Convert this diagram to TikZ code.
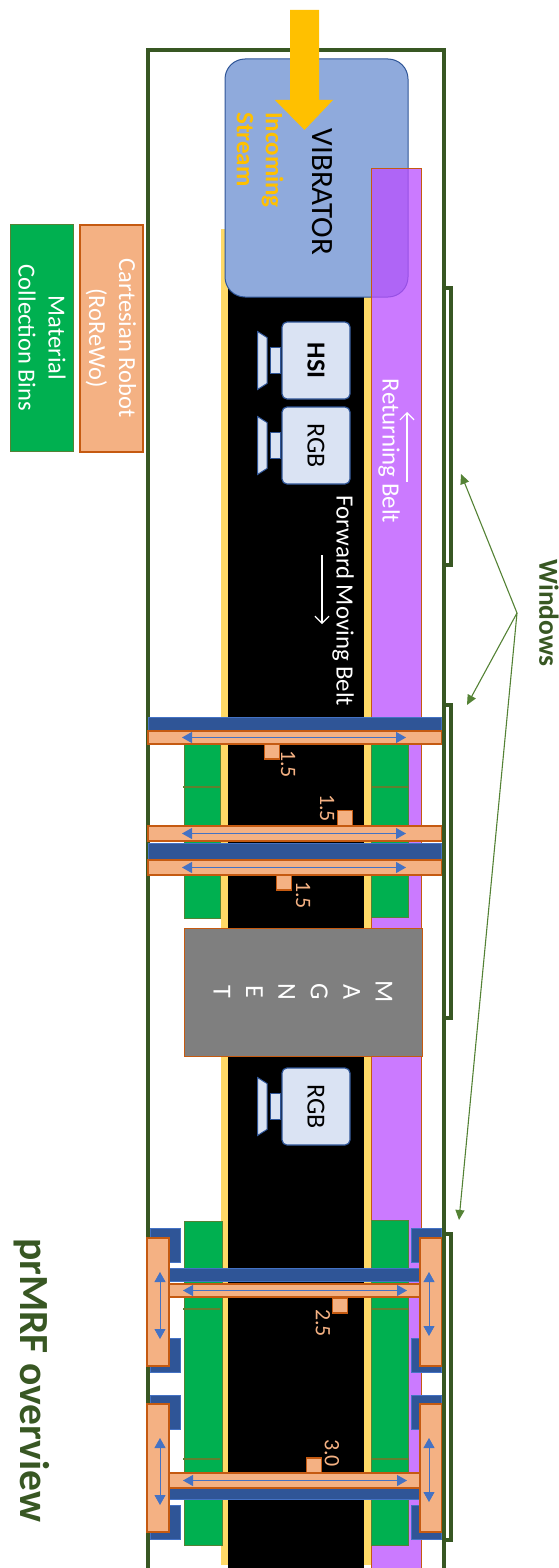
\documentclass[tikz,border=0pt]{standalone}
\usepackage{fontspec}
\setmainfont{Carlito}
\usetikzlibrary{arrows.meta, positioning}
\definecolor{frame-green}{HTML}{385723}
\definecolor{leader-green}{HTML}{548235}
\definecolor{vib-fill}{HTML}{8FAADC}
\definecolor{vib-border}{HTML}{2F5597}
\definecolor{stream}{HTML}{FFC000}
\definecolor{edge-yellow}{HTML}{FFD966}
\definecolor{return-belt}{HTML}{BA4EFF}
\definecolor{rust}{HTML}{C55A11}
\definecolor{robot-fill}{HTML}{F4B183}
\definecolor{bin-fill}{HTML}{00B050}
\definecolor{gantry}{HTML}{2F5597}
\definecolor{slide}{HTML}{4472C4}
\definecolor{magnet-fill}{HTML}{7F7F7F}
\definecolor{cam-fill}{HTML}{DAE3F3}
\definecolor{bin-line}{HTML}{5F8030}
\tikzset{
  vert/.style={rotate=-90, inner sep=0pt},
  robot/.style={draw=rust, fill=robot-fill, line width=1.8pt},
  binbox/.style={draw=leader-green, fill=bin-fill, line width=0.8pt},
  gantrybar/.style={draw=slide, fill=gantry, line width=0.6pt},
  camera/.style={
    vert, draw=vib-border, fill=cam-fill, line width=1.2pt, rounded corners=5pt,
    minimum width=77pt, minimum height=68pt, text=black,
    font=\fontsize{26}{28}\selectfont
  },
  campart/.style={draw=vib-border, fill=cam-fill, line width=1pt},
  slider/.style={draw=slide, line width=0.8pt, {Triangle[length=10pt,width=11pt]}-{Triangle[length=10pt,width=11pt]}},
  divider/.style={draw=bin-line, line width=2pt},
  marker/.style={draw=rust, fill=robot-fill, line width=1.5pt, minimum size=15pt, inner sep=0pt},
  poslbl/.style={vert, text=robot-fill, font=\fontsize{22}{24}\selectfont},
  window/.style={draw=frame-green, line width=4pt},
  leader/.style={draw=leader-green, line width=1.1pt, -{Triangle[length=10pt,width=9pt]}},
  beltlbl/.style={vert, text=white, font=\fontsize{24.8}{27}\selectfont},
  beltarrow/.style={draw=white, line width=1.2pt, -{Straight Barb[length=7pt,width=14pt]}}
}

\begin{document}
\begin{tikzpicture}[x=1pt, y=-1pt]
  \useasboundingbox (0,0) rectangle (559,1568);

  % ---- Outer frame and window brackets -------------------------------------
  \draw[frame-green, line width=4pt] (148,1568) -- (148,50.5) -- (444,50.5) -- (444,1568);
  \foreach \a/\b in {288/565, 705/1018, 1234/1540} {
    \draw[window] (444,\a) -- (451,\a) -- (451,\b) -- (444,\b);
  }

  % ---- Forward belt --------------------------------------------------------
  \fill[edge-yellow] (220.5,229) rectangle (228,1565);
  \fill[edge-yellow] (364,229) rectangle (371,1565);
  \fill[black] (228,280) rectangle (364,1568);

  % ---- Vibrator and returning belt -----------------------------------------
  \node[vert, draw=vib-border, fill=vib-fill, line width=1pt, rounded corners=20pt,
        minimum width=238pt, minimum height=183pt] (vibrator) at (316.5,178) {};
  \node[vert, text=black, font=\fontsize{31}{33}\selectfont] (vib-text) at (322,192) {VIBRATOR};
  \draw[rust, fill=return-belt, fill opacity=0.75, line width=0.8pt] (371,168.5) rectangle (421.5,1570);

  % ---- Incoming stream -----------------------------------------------------
  \fill[stream] (290,10) -- (319,10) -- (319,100) -- (333,100) -- (304.5,130)
    -- (275,100) -- (290,100) -- cycle;
  \node[vert, align=left, text=stream, font=\bfseries\fontsize{25}{29}\selectfont] (stream-text)
    at (260,160) {Incoming\\Stream};

  % ---- Cameras -------------------------------------------------------------
  \foreach \n/\y/\t in {hsi/360.5/\textbf{HSI}, rgba/445.5/RGB, rgbb/1106.5/RGB} {
    \node[camera] (\n) at (316,\y) {\t};
    \draw[campart] (270,\y-13) rectangle (280.5,\y+13);
    \draw[campart] (257.5,\y-29) -- (267,\y-23) -- (267,\y+23) -- (257.5,\y+29) -- cycle;
  }

  % ---- Belt labels ---------------------------------------------------------
  \node[beltlbl] (forward) at (343,601) {Forward Moving Belt};
  \node[beltlbl] (returning) at (389,451) {Returning Belt};
  \coordinate (fw-a) at (322,555);
  \coordinate (fw-b) at (322,624);
  \coordinate (rt-a) at (407,482);
  \coordinate (rt-b) at (407,412);
  \draw[beltarrow] (fw-a) -- (fw-b);
  \draw[beltarrow] (rt-a) -- (rt-b);

  % ---- Collection bins -----------------------------------------------------
  \foreach \xa/\xb/\ya/\yb in {184/220/744/918, 371/408/744/917, 184/222/1221/1545, 371/408/1220/1545} {
    \draw[binbox] (\xa,\ya) rectangle (\xb,\yb);
  }
  \foreach \xa/\xb/\y in {183/220/787, 371/408/787, 183/220/1309, 371/408/1309, 183/220/1459, 371/408/1459} {
    \draw[divider] (\xa,\y) -- (\xb,\y);
  }

  % ---- Long gantries -------------------------------------------------------
  \foreach \a/\b in {717/731, 843/859} {
    \draw[gantrybar] (148,\a) rectangle (441.5,\b);
  }
  \foreach \a/\b [count=\n] in {731/744, 826/841, 860/875} {
    \draw[robot] (148,\a) rectangle (441.5,\b);
    \coordinate (rail-\n-w) at (182,{(\a+\b)/2});
    \coordinate (rail-\n-e) at (406,{(\a+\b)/2});
    \draw[slider] (rail-\n-w) -- (rail-\n-e);
  }

  % ---- Magnet --------------------------------------------------------------
  \node[vert, draw=rust, fill=magnet-fill, line width=0.9pt, text=white,
        minimum width=128pt, minimum height=238pt, align=center,
        font=\fontsize{26}{32.4}\selectfont] (magnet) at (303,992)
        {M\\A\\G\\N\\E\\T};

  % ---- Side carriages ------------------------------------------------------
  \foreach \a/\b in {1228/1262, 1338/1372, 1395/1429, 1505/1539} {
    \draw[gantrybar] (150,\a) rectangle (180,\b);
    \draw[gantrybar] (411,\a) rectangle (441.5,\b);
  }
  \foreach \a/\b in {1268/1281, 1488/1499} {
    \draw[gantrybar] (169,\a) rectangle (420,\b);
  }
  \foreach \a/\b [count=\n from 4] in {1284/1297, 1473/1488} {
    \draw[robot] (169,\a) rectangle (420,\b);
    \coordinate (rail-\n-w) at (183,{(\a+\b)/2});
    \coordinate (rail-\n-e) at (407,{(\a+\b)/2});
    \draw[slider] (rail-\n-w) -- (rail-\n-e);
  }
  \foreach \a/\b [count=\n] in {1238/1366, 1404/1532} {
    \draw[robot] (147,\a) rectangle (169,\b);
    \draw[robot] (420,\a) rectangle (441.5,\b);
    \coordinate (side-\n-a) at (160,\a+34);
    \coordinate (side-\n-b) at (160,\a+101);
    \coordinate (side-\n-c) at (429,\a+34);
    \coordinate (side-\n-d) at (429,\a+98);
    \draw[slider] (side-\n-a) -- (side-\n-b);
    \draw[slider] (side-\n-c) -- (side-\n-d);
  }

  % ---- Position markers ----------------------------------------------------
  \node[marker] (mark-a) at (272,751.5) {};
  \node[marker] (mark-b) at (345,818) {};
  \node[marker] (mark-c) at (284,882.5) {};
  \node[marker] (mark-d) at (340,1305.5) {};
  \node[marker] (mark-e) at (314,1465.5) {};
  \node[poslbl] (pos-a) at (288,764) {1.5};
  \node[poslbl] (pos-b) at (327,808) {1.5};
  \node[poslbl] (pos-c) at (303,895) {1.5};
  \node[poslbl] (pos-d) at (323,1323) {2.5};
  \node[poslbl] (pos-e) at (332,1453) {3.0};

  % ---- Legend --------------------------------------------------------------
  \node[vert, draw=rust, fill=robot-fill, line width=2pt, text=white, align=center,
        minimum width=227pt, minimum height=63pt,
        font=\fontsize{24.5}{30}\selectfont] (legend-robot) at (111,338)
        {Cartesian Robot\\(RoReWo)};
  \node[vert, draw=leader-green, fill=bin-fill, line width=0.8pt, text=white, align=center,
        minimum width=227pt, minimum height=63pt,
        font=\fontsize{24.5}{30}\selectfont] (legend-bins) at (42,338)
        {Material\\Collection Bins};

  % ---- Windows callout -----------------------------------------------------
  \node[vert, text=frame-green, font=\bfseries\fontsize{27.5}{29}\selectfont] (windows) at (549,613) {Windows};
  \coordinate (win-hub) at (517,613);
  \coordinate (win-a) at (461,474);
  \coordinate (win-b) at (467,705);
  \coordinate (win-c) at (459,1220);
  \draw[leader] (win-hub) -- (win-a);
  \draw[leader] (win-hub) -- (win-b);
  \draw[leader] (win-hub) -- (win-c);

  % ---- Title ---------------------------------------------------------------
  \node[vert, text=frame-green, font=\bfseries\fontsize{41.5}{45}\selectfont] (title) at (32,1380) {prMRF overview};

\end{tikzpicture}
\end{document}
